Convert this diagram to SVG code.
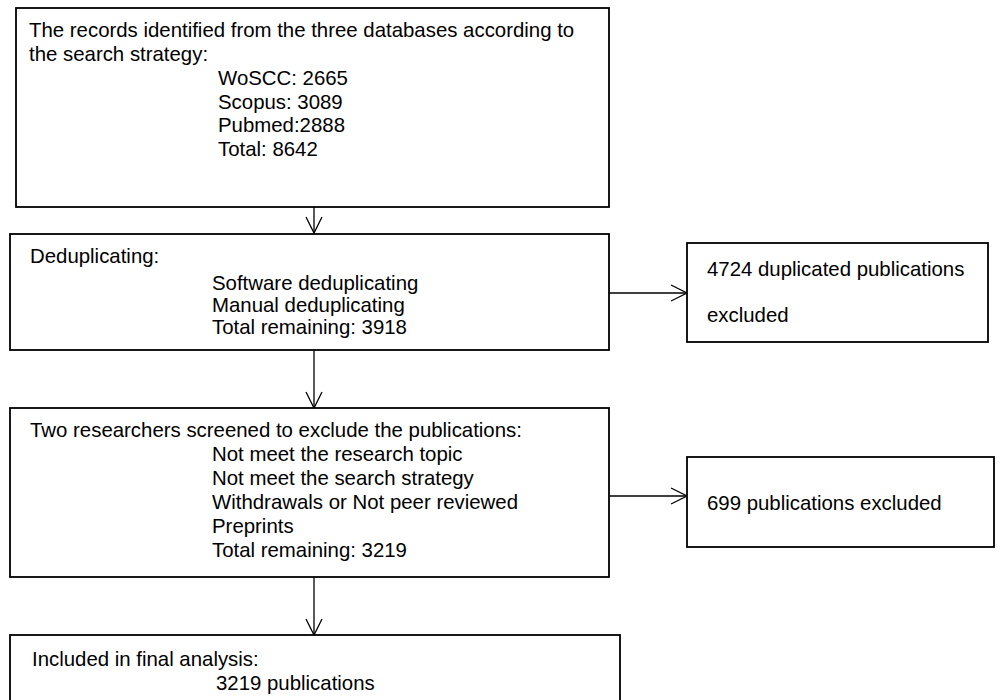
<svg xmlns="http://www.w3.org/2000/svg" width="1002" height="700" viewBox="0 0 1002 700">
<style>
.box{fill:#fff;stroke:#000;stroke-width:1.8}
.t{font-family:"Liberation Sans",Arial,sans-serif;font-size:20.4px;fill:#000}
.ln{stroke:#000;stroke-width:1.3;fill:none}
</style>
<defs>
<marker id="ah" viewBox="0 0 20 20" refX="18" refY="10" markerWidth="20" markerHeight="20" markerUnits="userSpaceOnUse" orient="auto">
<path d="M2,2 L18,10 L2,18" fill="none" stroke="#000" stroke-width="1.3"/>
</marker>
</defs>
<rect width="1002" height="700" fill="#fff"/>
<g id="connectors">
<line class="ln" x1="314" y1="207" x2="314" y2="233" marker-end="url(#ah)"/>
<line class="ln" x1="609" y1="293" x2="687" y2="293" marker-end="url(#ah)"/>
<line class="ln" x1="314" y1="350" x2="314" y2="408" marker-end="url(#ah)"/>
<line class="ln" x1="609" y1="496" x2="687" y2="496" marker-end="url(#ah)"/>
<line class="ln" x1="314" y1="577" x2="314" y2="635" marker-end="url(#ah)"/>
</g>
<g id="records">
<rect class="box" x="16" y="8" width="593" height="199"/>
<text class="t" x="29" y="37">The records identified from the three databases according to</text>
<text class="t" x="29" y="60.5">the search strategy:</text>
<text class="t" x="218" y="85">WoSCC: 2665</text>
<text class="t" x="218" y="108.5">Scopus: 3089</text>
<text class="t" x="218" y="132">Pubmed:2888</text>
<text class="t" x="218" y="155.5">Total: 8642</text>
</g>
<g id="dedup">
<rect class="box" x="10" y="234" width="599" height="116"/>
<text class="t" x="30" y="263">Deduplicating:</text>
<text class="t" x="212" y="290">Software deduplicating</text>
<text class="t" x="212" y="312">Manual deduplicating</text>
<text class="t" x="212" y="334">Total remaining: 3918</text>
</g>
<g id="dupexcl">
<rect class="box" x="687" y="243" width="301" height="99"/>
<text class="t" x="707" y="276">4724 duplicated publications</text>
<text class="t" x="707" y="322">excluded</text>
</g>
<g id="screen">
<rect class="box" x="10" y="408" width="599" height="169"/>
<text class="t" x="30" y="437">Two researchers screened to exclude the publications:</text>
<text class="t" x="212" y="461">Not meet the research topic</text>
<text class="t" x="212" y="485">Not meet the search strategy</text>
<text class="t" x="212" y="509">Withdrawals or Not peer reviewed</text>
<text class="t" x="212" y="533">Preprints</text>
<text class="t" x="212" y="557">Total remaining: 3219</text>
</g>
<g id="excl699">
<rect class="box" x="687" y="457" width="307" height="90"/>
<text class="t" x="707" y="510">699 publications excluded</text>
</g>
<g id="final">
<rect class="box" x="10" y="635" width="610" height="80"/>
<text class="t" x="32" y="666">Included in final analysis:</text>
<text class="t" x="216" y="690">3219 publications</text>
</g>
</svg>
